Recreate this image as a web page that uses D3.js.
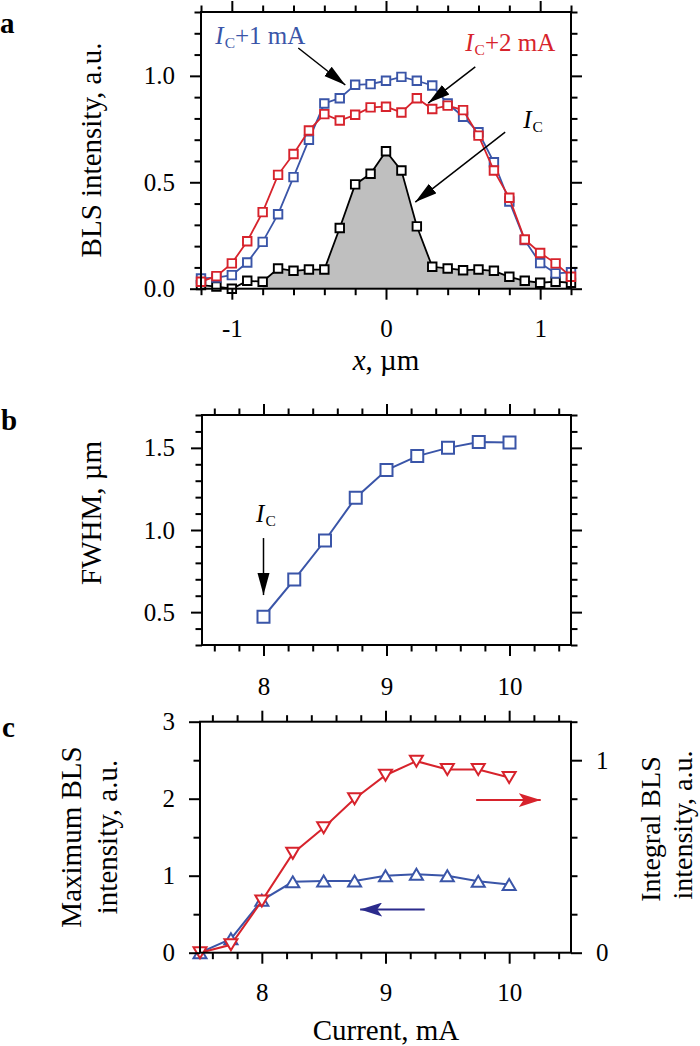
<!DOCTYPE html>
<html><head><meta charset="utf-8">
<script src="https://cdn.jsdelivr.net/npm/d3@7"></script>
<style>
html,body{margin:0;padding:0;background:#fff;}
svg text{font-family:"Liberation Serif","Times New Roman",serif;fill:#000;}
</style></head>
<body>
<script>
// ---------- Panel a data ----------
const xPositions = [-1.2,-1.1,-1.0,-0.9,-0.8,-0.7,-0.6,-0.5,-0.4,-0.3,-0.2,-0.1,0,0.1,0.2,0.3,0.4,0.5,0.6,0.7,0.8,0.9,1.0,1.1,1.2];
const blsIc  = [0.017,0.010,0.0,0.037,0.033,0.095,0.084,0.090,0.090,0.285,0.490,0.540,0.646,0.555,0.293,0.103,0.095,0.087,0.090,0.084,0.056,0.037,0.028,0.033,0.028];
const blsIc1 = [0.048,0.052,0.064,0.123,0.220,0.350,0.524,0.700,0.870,0.895,0.958,0.961,0.977,0.995,0.977,0.955,0.870,0.808,0.735,0.594,0.410,0.228,0.120,0.072,0.077];
const blsIc2 = [0.033,0.059,0.119,0.223,0.360,0.535,0.633,0.743,0.820,0.790,0.817,0.852,0.855,0.828,0.895,0.844,0.860,0.839,0.719,0.555,0.427,0.231,0.168,0.119,0.056];
const fillStart = 4, fillEnd = 22;   // indices of the shaded Ic region
const aXMajor = [-1,0,1];
const aXMinor = [-1.2,-0.8,-0.6,-0.4,-0.2,0.2,0.4,0.6,0.8,1.2];
const aYMajor = [0,0.5,1.0];
const aYMinor = [0.1,0.2,0.3,0.4,0.6,0.7,0.8,0.9,1.1,1.2,1.3];

// ---------- Panel b data ----------
const currentB = [8,8.25,8.5,8.75,9,9.25,9.5,9.75,10];
const fwhm     = [0.472,0.698,0.936,1.197,1.365,1.450,1.500,1.536,1.533];
const bcXMajor = [8,9,10];
const bcXMinor = [7.6,7.8,8.2,8.4,8.6,8.8,9.2,9.4,9.6,9.8,10.2,10.4];
const bYMajor = [0.5,1.0,1.5];
const bYMinor = [0.3,0.4,0.6,0.7,0.8,0.9,1.1,1.2,1.3,1.4,1.6,1.7];

// ---------- Panel c data ----------
const currentC = [7.5,7.75,8,8.25,8.5,8.75,9,9.25,9.5,9.75,10];
const maxBLS   = [0.0,0.18,0.68,0.92,0.93,0.93,1.0,1.02,1.0,0.927,0.885];
const intBLS   = [0.0,0.041,0.269,0.516,0.649,0.800,0.922,0.995,0.952,0.952,0.910];
const cYLMajor = [0,1,2,3];
const cYLMinor = [0.5,1.5,2.5];
const cYRMajor = [0,1];
const cYRMinor = [0.2,0.4,0.6,0.8,1.2];

const BLUE = "#3a55a8", RED = "#d7232c", NAVY = "#2b2b8c";
const FONT_TICK = 25, FONT_TITLE = 29;

const svg = d3.select("body").append("svg").attr("width",700).attr("height",1046);
const defs = svg.append("defs");
function headMarker(id, color, concave){
  const m = defs.append("marker").attr("id",id).attr("viewBox","0 0 22 14")
    .attr("refX",22).attr("refY",7).attr("markerWidth",22).attr("markerHeight",14)
    .attr("markerUnits","userSpaceOnUse").attr("orient","auto");
  m.append("path").attr("d", concave ? "M0,0 L22,7 L0,14 L5,7 Z" : "M0,1 L22,7 L0,13 Z").attr("fill",color);
}
headMarker("hBlack","#000",false);
headMarker("hRed",RED,true);
headMarker("hNavy",NAVY,true);

function styleAxis(sel, fontSize){
  sel.select(".domain").remove();
  sel.selectAll(".tick line").attr("stroke","#000").attr("stroke-width",2);
  sel.selectAll(".tick text").style("font-size",fontSize+"px").style("font-family","Liberation Serif");
}
function frameAxes(g, x, y, cfg){
  const [x0,x1] = x.range(), [y0,y1] = y.range();
  const fmtNone = () => "";
  g.append("g").attr("transform",`translate(0,${y0})`).call(d3.axisBottom(x).tickValues(cfg.xMinor).tickSize(6.5).tickFormat(fmtNone)).call(styleAxis,FONT_TICK);
  g.append("g").attr("transform",`translate(0,${y0})`).call(d3.axisBottom(x).tickValues(cfg.xMajor).tickSize(11).tickPadding(cfg.xPad).tickFormat(cfg.xFmt)).call(styleAxis,FONT_TICK);
  g.append("g").attr("transform",`translate(0,${y1})`).call(d3.axisTop(x).tickValues(cfg.xMinor).tickSize(6.5).tickFormat(fmtNone)).call(styleAxis,FONT_TICK);
  g.append("g").attr("transform",`translate(0,${y1})`).call(d3.axisTop(x).tickValues(cfg.xMajor).tickSize(11).tickFormat(fmtNone)).call(styleAxis,FONT_TICK);
  g.append("g").attr("transform",`translate(${x0},0)`).call(d3.axisLeft(y).tickValues(cfg.yMinor).tickSize(6.5).tickFormat(fmtNone)).call(styleAxis,FONT_TICK);
  g.append("g").attr("transform",`translate(${x0},0)`).call(d3.axisLeft(y).tickValues(cfg.yMajor).tickSize(11).tickPadding(cfg.yPad).tickFormat(cfg.yFmt)).call(styleAxis,FONT_TICK);
  const yr = cfg.yRight || y;
  g.append("g").attr("transform",`translate(${x1},0)`).call(d3.axisRight(yr).tickValues(cfg.yRMinor||cfg.yMinor).tickSize(6.5).tickFormat(fmtNone)).call(styleAxis,FONT_TICK);
  g.append("g").attr("transform",`translate(${x1},0)`).call(d3.axisRight(yr).tickValues(cfg.yRMajor||cfg.yMajor).tickSize(11).tickPadding(cfg.yRPad||8).tickFormat(cfg.yRFmt||fmtNone)).call(styleAxis,FONT_TICK);
  g.append("rect").attr("x",x0).attr("y",y1).attr("width",x1-x0).attr("height",y0-y1)
    .attr("fill","none").attr("stroke","#000").attr("stroke-width",2);
}
function icLabel(g, px, py, rest, color, size){
  const t = g.append("text").attr("x",px).attr("y",py).style("font-size",size+"px").style("fill",color);
  t.append("tspan").text("I").style("font-style","italic");
  t.append("tspan").text("C").style("font-size",(size*0.62)+"px").attr("dy",4).attr("dx",1);
  if (rest) t.append("tspan").text(rest).attr("dy",-4);
  return t;
}
function arrow(g, x1,y1,x2,y2,color,marker,w){
  g.append("line").attr("x1",x1).attr("y1",y1).attr("x2",x2).attr("y2",y2)
    .attr("stroke",color).attr("stroke-width",w||1.8).attr("marker-end",`url(#${marker})`);
}
const sq = s => `M${-s/2},${-s/2}h${s}v${s}h${-s}Z`;
const triUp = (w,h) => `M0,${-h/2}L${w/2},${h/2}L${-w/2},${h/2}Z`;
const triDown = (w,h) => `M0,${h/2}L${w/2},${-h/2}L${-w/2},${-h/2}Z`;

// ================= Panel a =================
{
  const x = d3.scaleLinear().domain([-1.2,1.2]).range([201,571]);
  const y = d3.scaleLinear().domain([0,1.3]).range([288.7,12]);
  const g = svg.append("g");
  const dataI = xPositions.map((v,i)=>[v,blsIc[i]]);
  const area = d3.area().x(d=>x(d[0])).y0(y(0)).y1(d=>y(d[1]));
  g.append("path").datum(dataI.slice(fillStart,fillEnd+1)).attr("d",area).attr("fill","#bfbfbf");
  const line = d3.line().x(d=>x(d[0])).y(d=>y(d[1]));
  const series = [
    {vals:blsIc, color:"#000"},
    {vals:blsIc1, color:BLUE},
    {vals:blsIc2, color:RED}
  ];
  series.forEach(s=>{
    const d = xPositions.map((v,i)=>[v,s.vals[i]]);
    g.append("path").datum(d).attr("d",line).attr("fill","none").attr("stroke",s.color).attr("stroke-width",1.8);
    g.selectAll(null).data(d).join("path").attr("d",sq(8.5))
      .attr("transform",p=>`translate(${x(p[0])},${y(p[1])})`)
      .attr("fill","#fff").attr("stroke",s.color).attr("stroke-width",1.9);
  });
  frameAxes(g,x,y,{xMajor:aXMajor,xMinor:aXMinor,yMajor:aYMajor,yMinor:aYMinor,
    xPad:20,yPad:15,xFmt:d3.format("d"),yFmt:d3.format(".1f")});
  g.selectAll("text").filter(function(){return this.textContent==="−1";}).text("-1");
  icLabel(g, x(-1.107), y(1.150), "+1 mA", BLUE, 25);
  icLabel(g, x(0.514), y(1.117), "+2 mA", RED, 25);
  icLabel(g, x(0.89), y(0.755), null, "#000", 25);
  arrow(g, x(-0.569),y(1.131), x(-0.264),y(0.957), "#000","hBlack",1.5);
  arrow(g, x(0.579),y(1.042), x(0.274),y(0.872), "#000","hBlack",1.5);
  arrow(g, x(0.773),y(0.736), x(0.190),y(0.407), "#000","hBlack",1.5);
  g.append("text").attr("transform","translate(101,150) rotate(-90)").attr("text-anchor","middle")
    .style("font-size",FONT_TITLE+"px").text("BLS intensity, a.u.");
  const xt = g.append("text").attr("x",386).attr("y",370).attr("text-anchor","middle").style("font-size",FONT_TITLE+"px");
  xt.append("tspan").text("x").style("font-style","italic");
  xt.append("tspan").text(", µm");
  g.append("text").attr("x",0).attr("y",33).style("font-size","29px").style("font-weight","bold").text("a");
}

// ================= Panel b =================
{
  const x = d3.scaleLinear().domain([7.5,10.5]).range([202,571]);
  const y = d3.scaleLinear().domain([0.3,1.7]).range([645,415]);
  const g = svg.append("g");
  const d = currentB.map((v,i)=>[v,fwhm[i]]);
  g.append("path").datum(d).attr("d",d3.line().x(p=>x(p[0])).y(p=>y(p[1])))
    .attr("fill","none").attr("stroke",BLUE).attr("stroke-width",2);
  g.selectAll(null).data(d).join("path").attr("d",sq(12))
    .attr("transform",p=>`translate(${x(p[0])},${y(p[1])})`)
    .attr("fill","#fff").attr("stroke",BLUE).attr("stroke-width",2);
  frameAxes(g,x,y,{xMajor:bcXMajor,xMinor:bcXMinor,yMajor:bYMajor,yMinor:bYMinor,
    xPad:21,yPad:16,xFmt:d3.format("d"),yFmt:d3.format(".1f")});
  icLabel(g, x(7.94), y(1.049), null, "#000", 25);
  arrow(g, x(8.0),y(0.951), x(8.0),y(0.604), "#000","hBlack",1.5);
  g.append("text").attr("transform","translate(101,513) rotate(-90)").attr("text-anchor","middle")
    .style("font-size",FONT_TITLE+"px").text("FWHM, µm");
  g.append("text").attr("x",1).attr("y",430).style("font-size","29px").style("font-weight","bold").text("b");
}

// ================= Panel c =================
{
  const x = d3.scaleLinear().domain([7.5,10.5]).range([200,571]);
  const yL = d3.scaleLinear().domain([0,3]).range([952.7,721.7]);
  const yR = d3.scaleLinear().domain([0,1.2]).range([952.7,721.7]);
  const g = svg.append("g");
  const dMax = currentC.map((v,i)=>[v,maxBLS[i]]);
  const dInt = currentC.map((v,i)=>[v,intBLS[i]]);
  g.append("path").datum(dMax).attr("d",d3.line().x(p=>x(p[0])).y(p=>yL(p[1])))
    .attr("fill","none").attr("stroke",BLUE).attr("stroke-width",2);
  g.selectAll(null).data(dMax).join("path").attr("d",triUp(13,11))
    .attr("transform",p=>`translate(${x(p[0])},${yL(p[1])})`)
    .attr("fill","#fff").attr("stroke",BLUE).attr("stroke-width",2);
  g.append("path").datum(dInt).attr("d",d3.line().x(p=>x(p[0])).y(p=>yR(p[1])))
    .attr("fill","none").attr("stroke",RED).attr("stroke-width",2);
  g.selectAll(null).data(dInt).join("path").attr("d",triDown(13,11))
    .attr("transform",p=>`translate(${x(p[0])},${yR(p[1])})`)
    .attr("fill","#fff").attr("stroke",RED).attr("stroke-width",2);
  frameAxes(g,x,yL,{xMajor:bcXMajor,xMinor:bcXMinor,yMajor:cYLMajor,yMinor:cYLMinor,
    xPad:20,yPad:14,xFmt:d3.format("d"),yFmt:d3.format("d"),
    yRight:yR,yRMajor:cYRMajor,yRMinor:cYRMinor,yRPad:14,yRFmt:d3.format("d")});
  arrow(g, x(9.733),yR(0.793), x(10.255),yR(0.793), RED,"hRed",2);
  arrow(g, x(9.317),yL(0.561), x(8.795),yL(0.561), NAVY,"hNavy",2);
  g.append("text").attr("transform","translate(81,837) rotate(-90)").attr("text-anchor","middle")
    .style("font-size",FONT_TITLE+"px").text("Maximum BLS");
  g.append("text").attr("transform","translate(117,837) rotate(-90)").attr("text-anchor","middle")
    .style("font-size",FONT_TITLE+"px").text("intensity, a.u.");
  g.append("text").attr("transform","translate(660,829) rotate(-90)").attr("text-anchor","middle")
    .style("font-size","28px").text("Integral BLS");
  g.append("text").attr("transform","translate(692,825) rotate(-90)").attr("text-anchor","middle")
    .style("font-size","28px").text("intensity, a.u.");
  g.append("text").attr("x",386).attr("y",1040).attr("text-anchor","middle")
    .style("font-size",FONT_TITLE+"px").text("Current, mA");
  g.append("text").attr("x",2).attr("y",737).style("font-size","29px").style("font-weight","bold").text("c");
}
</script>
</body></html>
